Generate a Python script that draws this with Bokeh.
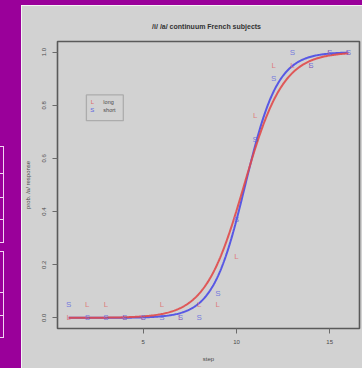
import numpy as np
from bokeh.plotting import figure
from bokeh.models import (FixedTicker, PrintfTickFormatter, Range1d, BoxAnnotation,
                          Label, Div, ColumnDataSource)
from bokeh.layouts import row, column
from bokeh.core.properties import value
from bokeh.embed import file_html
from bokeh.resources import INLINE

# ---------------- data ----------------
steps = list(range(1, 17))
long_prop = [0.0, 0.05, 0.05, 0.0, 0.0, 0.05, 0.0, 0.05, 0.05, 0.23, 0.76, 0.95, 0.95, 0.95, 1.0, 1.0]
short_prop = [0.05, 0.0, 0.0, 0.0, 0.0, 0.0, 0.0, 0.0, 0.09, 0.37, 0.67, 0.90, 1.0, 0.95, 1.0, 1.0]
series_names = ["long", "short"]
series_symbols = ["L", "S"]
x_ticks = [5, 10, 15]
y_ticks = [0.0, 0.2, 0.4, 0.6, 0.8, 1.0]
title_text = "/i/ /a/ continuum   French subjects"
x_label = "step"
y_label = "prob. /a/ response"

# ---------------- styles ----------------
PURPLE = "#9a009a"
GRAY = "#d2d2d2"
RED = "#e04a4a"
BLUE = "#4a4ae6"
RED_TXT = "#e06868"
BLUE_TXT = "#5a62e0"
AXIS_GRAY = "#6a6a6a"
FONT = "Liberation Sans"


def logistic_fit(x, y):
    """Binomial GLM (logit link) fitted by IRLS on the step proportions."""
    x = np.asarray(x, float)
    y = np.asarray(y, float)
    X = np.column_stack([np.ones_like(x), x])
    beta = np.zeros(2)
    for _ in range(100):
        eta = X @ beta
        mu = 1.0 / (1.0 + np.exp(-eta))
        w = np.clip(mu * (1 - mu), 1e-9, None)
        z = eta + (y - mu) / w
        beta = np.linalg.solve(X.T @ (w[:, None] * X), X.T @ (w * z))
    return beta


p = figure(width=341, height=363, x_range=Range1d(0.4, 16.6), y_range=Range1d(-0.04, 1.04),
           output_backend="svg", toolbar_location=None,
           min_border_left=35, min_border_right=3, min_border_top=36, min_border_bottom=40,
           background_fill_color=GRAY, border_fill_color=GRAY, title=title_text)
p.grid.visible = False
p.outline_line_color = "#5a5a5a"
p.outline_line_width = 1.6

p.title.align = "center"
p.title.vertical_align = "bottom"
p.title.text_font = FONT
p.title.text_font_size = "7px"
p.title.text_font_style = "bold"
p.title.text_color = "#333333"
p.title.text_line_height = 0.6
p.title.standoff = 24

for ax in (p.xaxis[0], p.yaxis[0]):
    ax.axis_line_color = None
    ax.major_tick_line_color = AXIS_GRAY
    ax.major_tick_out = 5
    ax.major_tick_in = 0
    ax.minor_tick_line_color = None
    ax.major_label_text_font = FONT
    ax.major_label_text_font_size = "6px"
    ax.major_label_text_color = "#4a4a4a"
    ax.axis_label_text_font = FONT
    ax.axis_label_text_font_size = "6px"
    ax.axis_label_text_font_style = "normal"
    ax.axis_label_text_color = "#4a4a4a"

p.xaxis.ticker = FixedTicker(ticks=x_ticks)
p.yaxis.ticker = FixedTicker(ticks=y_ticks)
p.yaxis.formatter = PrintfTickFormatter(format="%.1f")
p.yaxis.major_label_orientation = "vertical"
p.xaxis.axis_label = x_label
p.yaxis.axis_label = y_label
p.xaxis.major_label_standoff = 6
p.yaxis.major_label_standoff = 6
p.xaxis.axis_label_standoff = 9
p.yaxis.axis_label_standoff = 9

# fitted curves
xs = np.linspace(min(steps), max(steps), 300)
curve_colors = {"long": RED, "short": BLUE}
props = {"long": long_prop, "short": short_prop}
for name in ["short", "long"]:
    b = logistic_fit(steps, props[name])
    ys = 1.0 / (1.0 + np.exp(-(b[0] + b[1] * xs)))
    p.line(xs, ys, line_color=curve_colors[name], line_width=2, line_alpha=0.9)

# letter markers
txt_colors = {"long": RED_TXT, "short": BLUE_TXT}
for name, sym in zip(series_names, series_symbols):
    src = ColumnDataSource(dict(x=steps, y=props[name], t=[sym] * len(steps)))
    p.text("x", "y", text="t", source=src, text_color=txt_colors[name], text_alpha=0.8,
           text_font=value(FONT), text_font_size="8px", text_align="center",
           text_baseline="middle")

# legend (drawn R-style)
p.add_layout(BoxAnnotation(left=1.95, right=3.93, bottom=0.742, top=0.839,
                           fill_alpha=0, line_color="#555555", line_width=1.3))
leg_y = [0.812, 0.782]
for name, sym, yy in zip(series_names, series_symbols, leg_y):
    p.add_layout(Label(x=2.27, y=yy, text=sym, text_color=txt_colors[name],
                       text_font=FONT, text_font_size="6px", text_align="center",
                       text_baseline="middle"))
    p.add_layout(Label(x=2.86, y=yy, text=name, text_color="#4a4a4a",
                       text_font=FONT, text_font_size="5.5px", text_align="left",
                       text_baseline="middle"))

# slide background pieces (purple frame with table remnants at the left edge)
cells = [(146, 173), (173, 197), (197, 219), (219, 242), (251, 292), (292, 315), (315, 337)]
boxes = "".join(
    f'<div style="position:absolute;left:-3px;top:{t}px;width:7px;height:{b - t + 1}px;'
    f'border:1px solid #f2d4f2;box-sizing:border-box"></div>' for t, b in cells)
left_div = Div(text=f'<div style="position:relative;width:21px;height:368px;overflow:hidden">{boxes}</div>',
               width=21, height=368, styles={"background-color": PURPLE, "margin": "0", "padding": "0"})
top_div = Div(text="", width=341, height=5, styles={"background-color": PURPLE, "margin": "0", "padding": "0"})

layout = row(left_div, column(top_div, p, spacing=0), spacing=0)
open("out.html", "w").write(file_html(layout, INLINE))
